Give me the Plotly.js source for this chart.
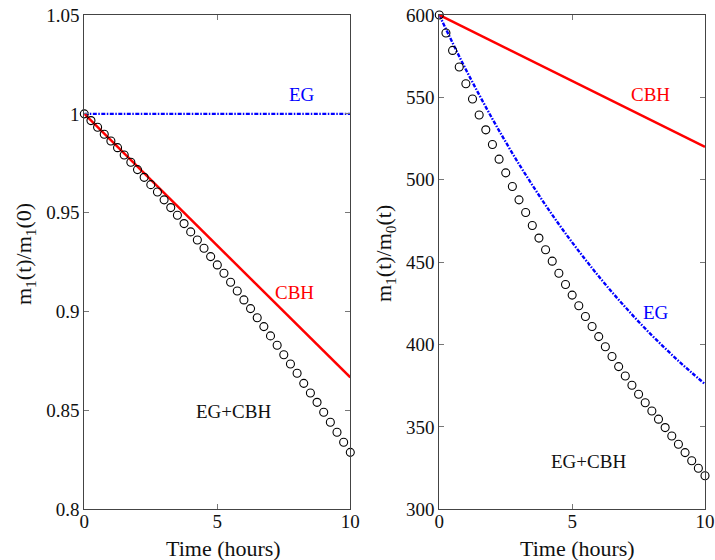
<!DOCTYPE html>
<html>
<head>
<meta charset="utf-8">
<script src="https://cdn.plot.ly/plotly-3.0.1.min.js"></script>
<style>html,body{margin:0;padding:0;background:#fff;}#chart{width:715px;height:560px;}</style>
</head>
<body>
<div id="chart"></div>
<script>
// Time grid of the circle markers (hours)
var timeCircles = [0,0.25,0.5,0.75,1,1.25,1.5,1.75,2,2.25,2.5,2.75,3,3.25,3.5,3.75,4,4.25,4.5,4.75,5,
  5.25,5.5,5.75,6,6.25,6.5,6.75,7,7.25,7.5,7.75,8,8.25,8.5,8.75,9,9.25,9.5,9.75,10];

// Left panel: m1(t)/m1(0)
var leftCombined = [1.0000,0.9966,0.9932,0.9897,0.9863,0.9829,0.9792,0.9755,0.9718,0.9679,0.9642,
  0.9605,0.9565,0.9526,0.9487,0.9445,0.9403,0.9362,0.9320,0.9278,0.9236,0.9194,0.9148,0.9104,0.9059,
  0.9015,0.8969,0.8924,0.8877,0.8830,0.8782,0.8735,0.8688,0.8637,0.8588,0.8541,0.8491,0.8440,0.8390,
  0.8339,0.8288];
var leftLineTime = [0, 10];
var leftCBH = [1.0, 0.8667];
var leftEG = [1.0, 1.0];

// Right panel: m1(t)/m0(t)
var rightCombined = [600,589.1,578.5,568.4,558.3,549.0,539.3,530.3,521.4,512.5,504.2,495.9,487.8,
  480.1,472.2,464.6,457.5,450.6,443.3,436.4,430.0,423.5,417.0,410.9,404.8,398.7,392.7,386.6,380.9,
  375.3,369.8,364.7,359.7,354.7,349.6,344.5,339.5,334.4,329.5,324.9,320.4];
var rightCBHTime = [0, 10];
var rightCBH = [600, 520];
var rightEGTime = [0,0.5,1,1.5,2,2.5,3,3.5,4,4.5,5,5.5,6,6.5,7,7.5,8,8.5,9,9.5,10];
var rightEG = [600,583.1,566.9,551.6,536.9,522.9,509.5,496.8,484.6,473.0,462.0,451.5,441.4,431.8,
  422.7,413.9,405.6,397.7,390.1,382.9,376.0];

var xTicks = [0, 5, 10];
var leftYTicks = [0.8, 0.85, 0.9, 0.95, 1, 1.05];
var rightYTicks = [300, 350, 400, 450, 500, 550, 600];

var FONT = "'Liberation Serif', 'Times New Roman', Times, serif";
var RED = '#ff0000', BLUE = '#0000ff';
var EGDASH = '4px,1.5px,1.5px,1.5px';

var traces = [
  {x: leftLineTime, y: leftEG, xaxis: 'x', yaxis: 'y', mode: 'lines',
   line: {color: BLUE, width: 2.4, dash: EGDASH}},
  {x: leftLineTime, y: leftCBH, xaxis: 'x', yaxis: 'y', mode: 'lines',
   line: {color: RED, width: 2.5}},
  {x: timeCircles, y: leftCombined, xaxis: 'x', yaxis: 'y', mode: 'markers', cliponaxis: false,
   marker: {symbol: 'circle-open', size: 8, color: '#000', line: {width: 1.1, color: '#000'}}},
  {x: rightEGTime, y: rightEG, xaxis: 'x2', yaxis: 'y2', mode: 'lines', line: {shape: 'spline',
   color: BLUE, width: 2.4, dash: EGDASH}},
  {x: rightCBHTime, y: rightCBH, xaxis: 'x2', yaxis: 'y2', mode: 'lines',
   line: {color: RED, width: 2.5}},
  {x: timeCircles, y: rightCombined, xaxis: 'x2', yaxis: 'y2', mode: 'markers', cliponaxis: false,
   marker: {symbol: 'circle-open', size: 8, color: '#000', line: {width: 1.1, color: '#000'}}}
];

function axisBase(extra) {
  var a = {
    showgrid: false, zeroline: false, showline: true, linecolor: '#444', linewidth: 1,
    mirror: 'ticks', ticks: 'inside', ticklen: 5, tickwidth: 1, tickcolor: '#777',
    tickfont: {family: FONT, size: 19, color: '#111'}, fixedrange: true
  };
  for (var k in extra) a[k] = extra[k];
  return a;
}

var W = 715, H = 560;
function px(x) { return x / W; }
function py(y) { return 1 - y / H; }

var layout = {
  width: W, height: H,
  margin: {l: 0, r: 0, t: 0, b: 0},
  paper_bgcolor: '#fff', plot_bgcolor: '#fff',
  showlegend: false,
  font: {family: FONT, color: '#111'},
  xaxis: axisBase({domain: [px(84.3), px(350.3)], range: [0, 10], tickvals: xTicks, anchor: 'y',
    ticklabelstandoff: -5}),
  yaxis: axisBase({domain: [py(509.3), py(15)], range: [0.8, 1.05], tickvals: leftYTicks, anchor: 'x'}),
  xaxis2: axisBase({domain: [px(439.3), px(705)], range: [0, 10], tickvals: xTicks, anchor: 'y2',
    ticklabelstandoff: -5}),
  yaxis2: axisBase({domain: [py(509.3), py(15)], range: [300, 600], tickvals: rightYTicks, anchor: 'x2'}),
  annotations: [
    {xref: 'x', yref: 'y', x: 8.17, y: 1.0096, text: 'EG', showarrow: false,
     font: {family: FONT, size: 19, color: BLUE}},
    {xref: 'x', yref: 'y', x: 7.92, y: 0.9096, text: 'CBH', showarrow: false,
     font: {family: FONT, size: 19, color: RED}},
    {xref: 'x', yref: 'y', x: 5.6, y: 0.8494, text: 'EG+CBH', showarrow: false,
     font: {family: FONT, size: 19, color: '#111'}},
    {xref: 'x2', yref: 'y2', x: 7.93, y: 551.6, text: 'CBH', showarrow: false,
     font: {family: FONT, size: 19, color: RED}},
    {xref: 'x2', yref: 'y2', x: 8.15, y: 419.6, text: 'EG', showarrow: false,
     font: {family: FONT, size: 19, color: BLUE}},
    {xref: 'x2', yref: 'y2', x: 5.62, y: 328.9, text: 'EG+CBH', showarrow: false,
     font: {family: FONT, size: 19, color: '#111'}},
    {xref: 'paper', yref: 'paper', x: px(25), y: py(254), textangle: -90, showarrow: false,
     xanchor: 'center', yanchor: 'middle',
     text: 'm<sub>1</sub>(t)/m<sub>1</sub>(0)', font: {family: FONT, size: 22, color: '#111'}},
    {xref: 'paper', yref: 'paper', x: px(385), y: py(254), textangle: -90, showarrow: false,
     xanchor: 'center', yanchor: 'middle',
     text: 'm<sub>1</sub>(t)/m<sub>0</sub>(t)', font: {family: FONT, size: 22, color: '#111'}},
    {xref: 'paper', yref: 'paper', x: px(223), y: py(548), showarrow: false,
     xanchor: 'center', yanchor: 'middle',
     text: 'Time (hours)', font: {family: FONT, size: 22, color: '#111'}},
    {xref: 'paper', yref: 'paper', x: px(577), y: py(548), showarrow: false,
     xanchor: 'center', yanchor: 'middle',
     text: 'Time (hours)', font: {family: FONT, size: 22, color: '#111'}}
  ]
};

Plotly.newPlot('chart', traces, layout, {displayModeBar: false, staticPlot: true});
</script>
</body>
</html>
